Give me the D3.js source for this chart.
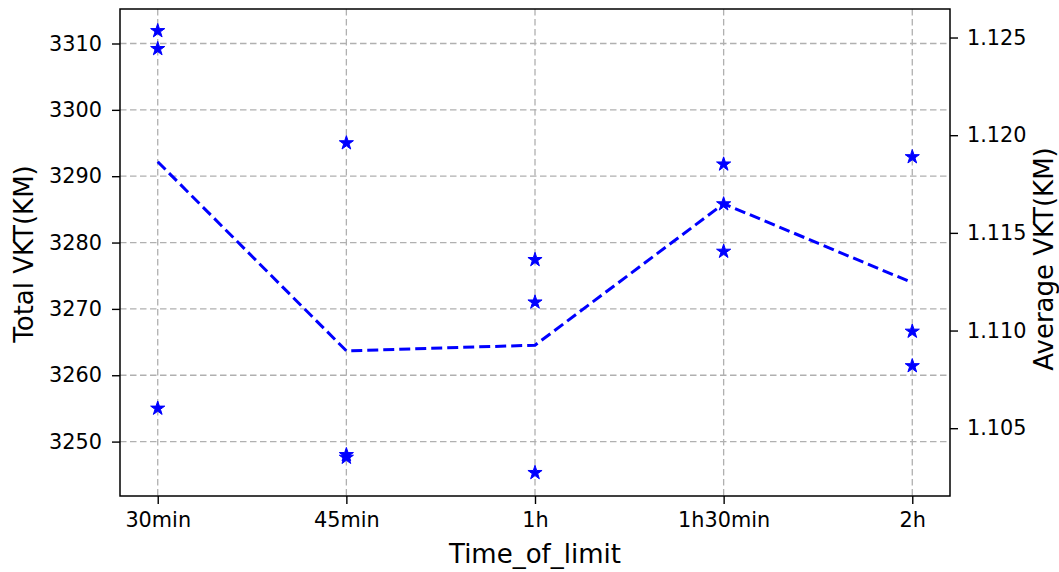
<!DOCTYPE html>
<html>
<head>
<meta charset="utf-8">
<script src="https://cdn.jsdelivr.net/npm/d3@7"></script>
<style>
  html, body { margin: 0; padding: 0; background: #fff; }
  svg { display: block; font-family: "DejaVu Sans", sans-serif; }
</style>
</head>
<body>
<svg id="chart" width="1059" height="572"></svg>
<script>
// ---- data ----
const categories = ["30min", "45min", "1h", "1h30min", "2h"];
// Total VKT (KM) for three runs per time limit (left axis, star markers)
const run1 = [3311.9, 3295.0, 3277.4, 3291.8, 3292.9];
const run2 = [3309.2, 3248.0, 3271.0, 3285.8, 3266.6];
const run3 = [3255.0, 3247.6, 3245.3, 3278.65, 3261.4];
// Average VKT (KM) (right axis, dashed line)
const avgVKT = [1.11864, 1.10896, 1.10925, 1.11649, 1.11245];
const leftTicks = [3250, 3260, 3270, 3280, 3290, 3300, 3310];
const rightTicks = [1.105, 1.110, 1.115, 1.120, 1.125];
const xLabel = "Time_of_limit";
const yLeftLabel = "Total VKT(KM)";
const yRightLabel = "Average VKT(KM)";

// ---- layout ----
const svg = d3.select("#chart");
const L = 120, R = 950, T = 9, B = 496;

const x = d3.scalePoint().domain(categories).range([L, R]).padding(0.2);
const yL = d3.scaleLinear().domain([3241.8, 3315.2]).range([B, T]);
const yR = d3.scaleLinear().domain([1.10153, 1.12646]).range([B, T]);

const tickFont = 20.8, labelFont = 26;

// grid
const grid = svg.append("g");
grid.selectAll("line.h").data(leftTicks).join("line")
  .attr("x1", L).attr("x2", R)
  .attr("y1", d => yL(d)).attr("y2", d => yL(d))
  .attr("stroke", "#b0b0b0").attr("stroke-width", 1.3).attr("stroke-dasharray", "6.5,3.5");
grid.selectAll("line.v").data(categories).join("line")
  .attr("x1", d => x(d)).attr("x2", d => x(d))
  .attr("y1", T).attr("y2", B)
  .attr("stroke", "#b0b0b0").attr("stroke-width", 1.3).attr("stroke-dasharray", "6.5,3.5");

// axes
function styleAxis(g) {
  g.select(".domain").remove();
  g.selectAll(".tick line").attr("stroke", "#000").attr("stroke-width", 1.4);
  g.selectAll(".tick text").attr("fill", "#000").attr("font-size", tickFont)
    .attr("font-family", "DejaVu Sans, sans-serif");
}
const gx = svg.append("g").attr("transform", `translate(0,${B})`)
  .call(d3.axisBottom(x).tickSize(8).tickPadding(8));
styleAxis(gx);
gx.selectAll(".tick text").attr("dy", "0.71em");

const gyl = svg.append("g").attr("transform", `translate(${L},0)`)
  .call(d3.axisLeft(yL).tickValues(leftTicks).tickFormat(d3.format("d")).tickSize(8).tickPadding(10));
styleAxis(gyl);

const gyr = svg.append("g").attr("transform", `translate(${R},0)`)
  .call(d3.axisRight(yR).tickValues(rightTicks).tickFormat(d3.format(".3f")).tickSize(8).tickPadding(9));
styleAxis(gyr);

// frame
svg.append("rect").attr("x", L).attr("y", T).attr("width", R - L).attr("height", B - T)
  .attr("fill", "none").attr("stroke", "#000").attr("stroke-width", 1.5);

// dashed average line (right axis)
const line = d3.line().x((d, i) => x(categories[i])).y(d => yR(d));
svg.append("path").datum(avgVKT).attr("d", line)
  .attr("fill", "none").attr("stroke", "#0000ff").attr("stroke-width", 3)
  .attr("stroke-dasharray", "11,5");

// star markers (left axis)
const star = d3.symbol().type(d3.symbolStar).size(62);
[run1, run2, run3].forEach(run => {
  svg.append("g").selectAll("path").data(run).join("path")
    .attr("transform", (d, i) => `translate(${x(categories[i])},${yL(d)})`)
    .attr("d", star)
    .attr("fill", "#0000ff").attr("stroke", "#0000ff").attr("stroke-width", 1);
});

// axis labels
svg.append("text").attr("x", (L + R) / 2).attr("y", 563)
  .attr("text-anchor", "middle").attr("font-size", labelFont).attr("fill", "#000").text(xLabel);
svg.append("text").attr("transform", `translate(33,254) rotate(-90)`)
  .attr("text-anchor", "middle").attr("font-size", labelFont).attr("fill", "#000").text(yLeftLabel);
svg.append("text").attr("transform", `translate(1053,259) rotate(-90)`)
  .attr("text-anchor", "middle").attr("font-size", labelFont).attr("fill", "#000").text(yRightLabel);
</script>
</body>
</html>
